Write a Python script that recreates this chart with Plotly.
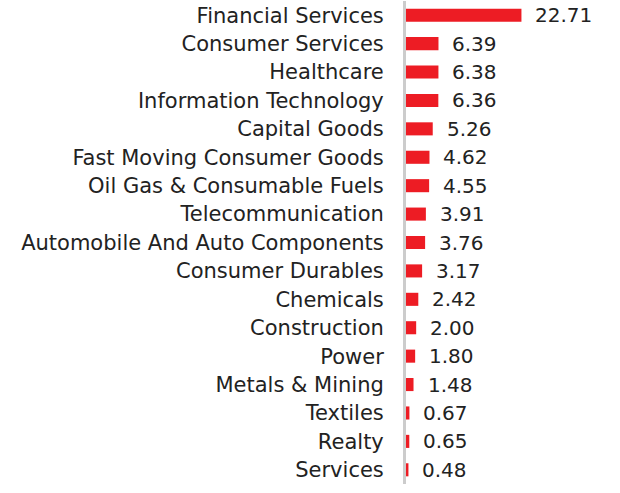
import plotly.graph_objects as go

categories = ["Financial Services", "Consumer Services", "Healthcare", "Information Technology",
              "Capital Goods", "Fast Moving Consumer Goods", "Oil Gas & Consumable Fuels",
              "Telecommunication", "Automobile And Auto Components", "Consumer Durables",
              "Chemicals", "Construction", "Power", "Metals & Mining", "Textiles", "Realty", "Services"]
values = [22.71, 6.39, 6.38, 6.36, 5.26, 4.62, 4.55, 3.91, 3.76, 3.17, 2.42, 2.00, 1.80, 1.48, 0.67, 0.65, 0.48]

FONT = "DejaVu Sans"
fig = go.Figure(go.Bar(
    y=categories, x=values, orientation="h",
    marker=dict(color="#ed1c24", line=dict(width=0)),
    hoverinfo="skip",
))
for c, v in zip(categories, values):
    fig.add_annotation(x=v, y=c, text=f"{v:.2f}", showarrow=False, xanchor="left",
                       xshift=12, font=dict(family=FONT, size=20, color="#222222"))

fig.update_layout(
    width=620, height=493,
    margin=dict(l=406, r=0, t=1, b=9),
    paper_bgcolor="white", plot_bgcolor="white",
    bargap=0.54, showlegend=False,
)
fig.update_xaxes(range=[0, 42.1], showgrid=False, zeroline=False, showticklabels=False, showline=False)
fig.update_yaxes(autorange="reversed", showgrid=False, showline=True, linecolor="#cccccc", linewidth=3,
                 ticks="", ticklabelstandoff=15,
                 tickfont=dict(family=FONT, size=21, color="#222222"))
fig.write_html("out.html")
